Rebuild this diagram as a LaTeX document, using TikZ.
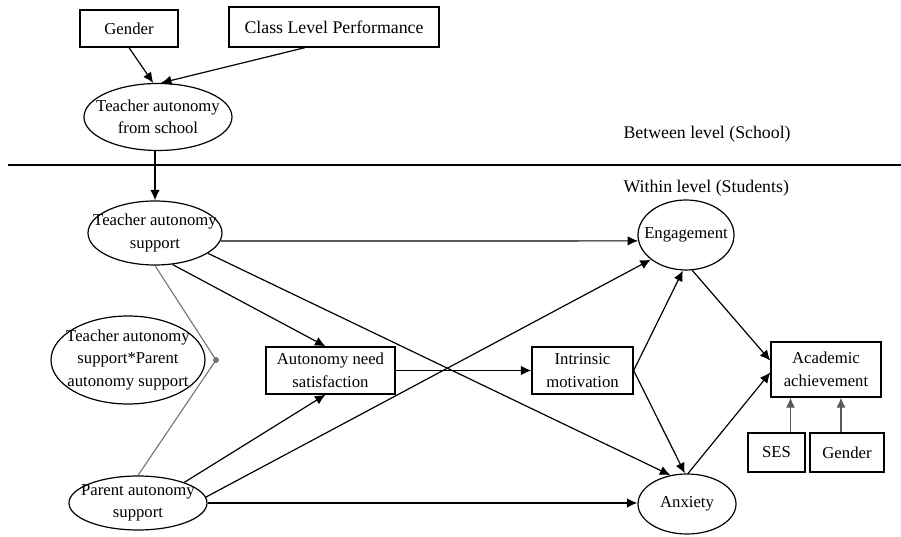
\documentclass[tikz,border=0pt]{standalone}
\usepackage{fontspec}
\setmainfont{Liberation Serif}
\usetikzlibrary{arrows.meta,shapes.geometric}
\begin{document}
\begin{tikzpicture}[x=1pt,y=1pt,
  font=\fontsize{16.7}{22.5}\selectfont,
  box/.style={draw,line width=1.3pt,inner sep=0pt,align=center,minimum width=#1},
  % ellipse of fixed size, its text set as a centred label so it may overflow
  oval/.style n args={3}{draw,line width=1.2pt,ellipse,inner sep=0pt,
    minimum width=#1,minimum height=#2,
    label={[align=center,inner sep=0pt]center:#3}},
  path/.style={line width=1.2pt,-{Latex[length=10.5pt,width=9.5pt]}},
  ctrl/.style={line width=1.1pt,draw=black!65,-{Latex[length=10pt,width=9pt]}},
  inter/.style={line width=1.1pt,draw=black!55}]
\useasboundingbox (0,0) rectangle (901,537);

% between level (school)
\node[box=98pt,minimum height=37pt] (gender) at (129,508.5) {Gender};
\node[box=210pt,minimum height=40pt,font=\fontsize{17.8}{21.5}\selectfont] (class) at (334,510) {Class Level Performance};
\node[oval={148pt}{67pt}{Teacher autonomy\\from school}] (tafs) at (158,420) {};

\coordinate (sepL) at (8,372);
\coordinate (sepR) at (901,372);
\draw[line width=1.2pt] (sepL) -- (sepR);
\node[anchor=west,font=\fontsize{17.8}{21.5}\selectfont] (between) at (620,403) {Between level (School)};
\node[anchor=west,font=\fontsize{17.8}{21.5}\selectfont] (within) at (620,349) {Within level (Students)};

% within level (students)
\node[oval={134pt}{64pt}{Teacher autonomy\\support}] (tas) at (155,304) {};
\node[oval={154pt}{88pt}{Teacher autonomy\\support*Parent\\autonomy support}] (ix) at (128,177) {};
\node[oval={138pt}{54pt}{Parent autonomy\\support}] (pas) at (138,34) {};
\node[circle,fill=black!55,inner sep=0pt,minimum size=6pt] (dot) at (216,177) {};

\node[box=129pt,minimum height=47pt] (ans) at (330.5,166.5) {Autonomy need\\satisfaction};
\node[box=101pt,minimum height=47pt] (im) at (582.5,166.5) {Intrinsic\\motivation};
\node[oval={96pt}{70pt}{Engagement}] (eng) at (686,302) {};
\node[oval={98pt}{60pt}{Anxiety}] (anx) at (687,33) {};
\node[box=110pt,minimum height=55pt] (aa) at (826,167.5) {Academic\\achievement};
\node[box=57pt,minimum height=39pt] (ses) at (776.5,84.5) {SES};
\node[box=74pt,minimum height=39pt] (gender2) at (847,84.5) {Gender};

% school-level paths
\draw[path] (gender.south) -- (tafs.98);
\draw[path] ([xshift=-29pt]class.south) -- (tafs.85);
\draw[path] (tafs.south -| tas.north) -- (tas.north);

% interaction term
\draw[inter] (tas.south) -- (dot.center) -- (pas.north);

% structural paths
\draw[path] (tas.-7) -- (eng.187);
\draw[path] (tas.-61) -- ([xshift=-5pt]ans.north);
\draw[path] (tas.-21) -- (anx.120);
\draw[path] (pas.24) -- ([xshift=-5pt]ans.south);
\draw[path] (pas.5) -- (eng.215);
\draw[path] (pas.east) -- (pas.east -| anx.west);
\draw[path] (ans.east) -- (im.west);
\draw[path] (im.east) -- (eng.265);
\draw[path] (im.east) -- (anx.94);
\draw[path] (eng.-80) -- (aa.171);
\draw[path] (anx.88) -- (aa.183);

% covariates
\draw[ctrl] ([xshift=14pt]ses.north) -- ([xshift=14pt]ses.north |- aa.south);
\draw[ctrl] ([xshift=-6pt]gender2.north) -- ([xshift=-6pt]gender2.north |- aa.south);
\end{tikzpicture}
\end{document}
